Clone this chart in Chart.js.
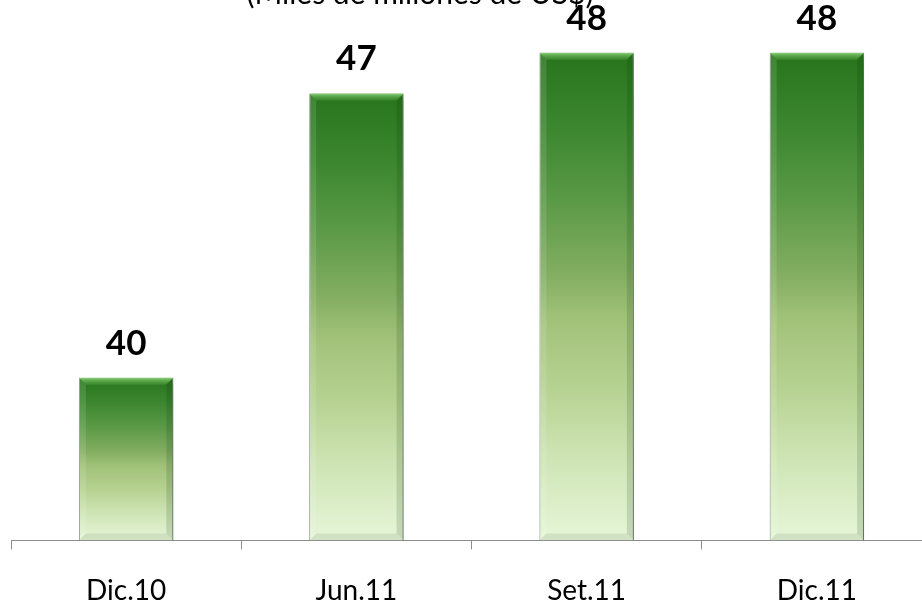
<!DOCTYPE html>
<html>
<head>
<meta charset="utf-8">
<script src="https://cdn.jsdelivr.net/npm/chart.js@4"></script>
<style>
  html, body { margin: 0; padding: 0; background: #fff; }
  #wrap { width: 922px; height: 605px; overflow: hidden; position: relative; }
  #wrap canvas { position: absolute; left: 0; top: 0; }
</style>
</head>
<body>
<div id="wrap"><canvas id="chart" width="940" height="639"></canvas></div>
<script>
// Data
const categories = ['Dic.10', 'Jun.11', 'Set.11', 'Dic.11'];
const values = [40, 47, 48, 48];
const titleText = '(Miles de millones de US$)';
const yMin = 36;
const yMax = 49.3;

const FONT = 'Lato, "Open Sans", sans-serif';

// Vertical gradient per bar, dark green on top to pale green at the base
function barGradient(c) {
  const chart = c.chart;
  if (!chart.chartArea) return '#4e9a3a';
  const y = chart.scales.y;
  const top = y.getPixelForValue(c.raw);
  const bottom = y.getPixelForValue(yMin);
  const g = chart.ctx.createLinearGradient(0, top, 0, bottom);
  g.addColorStop(0, '#28741d');
  g.addColorStop(0.15, '#3b862e');
  g.addColorStop(0.3, '#5a9946');
  g.addColorStop(0.45, '#82ad61');
  g.addColorStop(0.55, '#a2c27a');
  g.addColorStop(0.68, '#b5d190');
  g.addColorStop(0.82, '#cde3b2');
  g.addColorStop(1, '#e6f6d9');
  return g;
}

// Soft drop shadow behind the bars
const shadowPlugin = {
  id: 'shadow',
  beforeDatasetsDraw(chart) {
    const ctx = chart.ctx;
    ctx.save();
    ctx.shadowColor = 'rgba(0,0,0,0.35)';
    ctx.shadowBlur = 6;
    ctx.shadowOffsetX = 3;
    ctx.shadowOffsetY = 2;
  },
  afterDatasetsDraw(chart) {
    chart.ctx.restore();
  }
};

// Bevel highlight on the bar tops and edges, plus the value labels
const bevelPlugin = {
  id: 'bevel',
  afterDatasetsDraw(chart) {
    const ctx = chart.ctx;
    const meta = chart.getDatasetMeta(0);
    const b = 7;
    meta.data.forEach((bar, i) => {
      const l = bar.x - bar.width / 2, r = bar.x + bar.width / 2;
      const t = bar.y, btm = bar.base;
      ctx.save();
      // top bevel
      let g = ctx.createLinearGradient(0, t, 0, t + b);
      g.addColorStop(0, 'rgba(140,210,120,0.9)');
      g.addColorStop(1, 'rgba(70,150,55,0.5)');
      ctx.fillStyle = g;
      ctx.beginPath();
      ctx.moveTo(l, t); ctx.lineTo(r, t); ctx.lineTo(r - b, t + b); ctx.lineTo(l + b, t + b);
      ctx.closePath(); ctx.fill();
      // left edge lighter, right edge darker
      ctx.fillStyle = 'rgba(255,255,255,0.12)';
      ctx.beginPath();
      ctx.moveTo(l, t); ctx.lineTo(l + b, t + b); ctx.lineTo(l + b, btm - b); ctx.lineTo(l, btm);
      ctx.closePath(); ctx.fill();
      ctx.fillStyle = 'rgba(0,40,0,0.14)';
      ctx.beginPath();
      ctx.moveTo(r, t); ctx.lineTo(r - b, t + b); ctx.lineTo(r - b, btm - b); ctx.lineTo(r, btm);
      ctx.closePath(); ctx.fill();
      // bottom bevel
      ctx.fillStyle = 'rgba(120,140,100,0.18)';
      ctx.beginPath();
      ctx.moveTo(l, btm); ctx.lineTo(r, btm); ctx.lineTo(r - b, btm - b); ctx.lineTo(l + b, btm - b);
      ctx.closePath(); ctx.fill();
      ctx.restore();

      // value label
      ctx.save();
      ctx.font = 'bold 35px ' + FONT;
      ctx.fillStyle = '#000';
      ctx.textAlign = 'center';
      ctx.textBaseline = 'alphabetic';
      ctx.fillText(String(values[i]), bar.x, t - 23);
      ctx.restore();
    });
  }
};

// Title sits mostly above the visible area, only its bottom shows
const titlePlugin = {
  id: 'cutTitle',
  afterDraw(chart) {
    const ctx = chart.ctx;
    ctx.save();
    ctx.font = '30px ' + FONT;
    ctx.fillStyle = '#000';
    ctx.textAlign = 'center';
    ctx.textBaseline = 'alphabetic';
    ctx.fillText(titleText, 420, 4);
    ctx.restore();
  }
};

new Chart(document.getElementById('chart'), {
  type: 'bar',
  data: {
    labels: categories,
    datasets: [{
      data: values,
      base: yMin,
      backgroundColor: barGradient,
      borderColor: 'rgba(30,80,20,0.55)',
      borderWidth: 1,
      barPercentage: 0.41,
      categoryPercentage: 1
    }]
  },
  options: {
    responsive: false,
    animation: false,
    layout: { padding: { left: 11, right: 8, top: 0, bottom: 6 } },
    plugins: {
      legend: { display: false },
      tooltip: { enabled: false },
      title: { display: false }
    },
    scales: {
      x: {
        grid: {
          offset: true,
          drawOnChartArea: false,
          tickLength: 9,
          color: '#8c8c8c'
        },
        border: { display: true, color: '#8c8c8c', width: 1 },
        ticks: {
          padding: 25,
          color: '#000',
          font: { family: FONT, size: 28 }
        }
      },
      y: {
        display: false,
        min: yMin,
        max: yMax
      }
    }
  },
  plugins: [shadowPlugin, bevelPlugin, titlePlugin]
});
</script>
</body>
</html>
